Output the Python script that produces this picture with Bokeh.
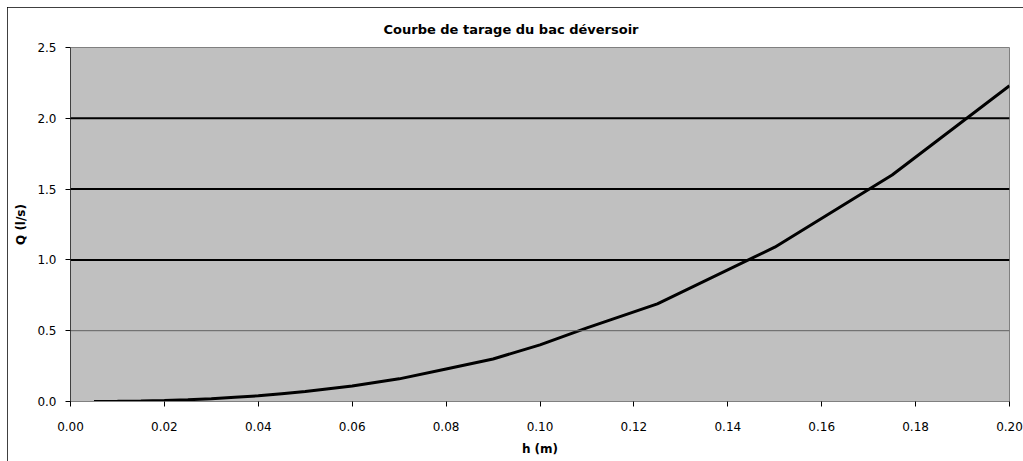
from bokeh.plotting import figure
from bokeh.models import FixedTicker, NumeralTickFormatter, Range1d, Span
from bokeh.embed import file_html
from bokeh.resources import INLINE

# Data
h_m = [0.005, 0.010, 0.015, 0.020, 0.025, 0.030, 0.035, 0.040, 0.045, 0.050,
       0.060, 0.070, 0.080, 0.090, 0.100, 0.110, 0.125, 0.150, 0.175, 0.200]
q_ls = [0.000, 0.001, 0.003, 0.007, 0.012, 0.020, 0.030, 0.040, 0.055, 0.070,
        0.110, 0.160, 0.230, 0.300, 0.400, 0.520, 0.690, 1.090, 1.600, 2.230]
x_ticks = [0.00, 0.02, 0.04, 0.06, 0.08, 0.10, 0.12, 0.14, 0.16, 0.18, 0.20]
y_ticks = [0.0, 0.5, 1.0, 1.5, 2.0, 2.5]
title_text = "Courbe de tarage du bac déversoir"

FONT = "DejaVu Sans"

p = figure(width=1016, height=454, output_backend="svg", toolbar_location=None,
           x_range=Range1d(x_ticks[0], x_ticks[-1]), y_range=Range1d(y_ticks[0], y_ticks[-1]),
           min_border_left=63, min_border_right=14, min_border_top=40, min_border_bottom=60,
           title=title_text)

p.styles = {"outline": "1px solid black", "outline-offset": "-1px",
            "margin-left": "7px", "margin-top": "7px"}

p.background_fill_color = "#C0C0C0"
p.border_fill_color = "white"
p.outline_line_color = "#808080"
p.outline_line_width = 1

p.title.text_font = FONT
p.title.text_font_size = "13px"
p.title.text_font_style = "bold"
p.title.text_color = "black"
p.title.align = "left"
p.title.offset = 313
p.title.standoff = 22

p.xgrid.visible = False
p.ygrid.visible = False

for t in y_ticks[1:-1]:
    if t == y_ticks[1]:
        p.add_layout(Span(location=t, dimension="width", line_color="#606060", line_width=1))
    else:
        p.add_layout(Span(location=t, dimension="width", line_color="black", line_width=2))

p.line(h_m, q_ls, line_color="black", line_width=3)

xa = p.xaxis[0]
xa.ticker = FixedTicker(ticks=x_ticks)
xa.formatter = NumeralTickFormatter(format="0.00")
xa.axis_label = "h (m)"
xa.axis_line_color = "#808080"
xa.major_tick_line_color = "black"
xa.major_tick_out = 5
xa.major_tick_in = 0
xa.minor_tick_line_color = None
xa.major_label_standoff = 15
xa.axis_label_standoff = 8

ya = p.yaxis[0]
ya.ticker = FixedTicker(ticks=y_ticks)
ya.formatter = NumeralTickFormatter(format="0.0")
ya.axis_label = "Q (l/s)"
ya.axis_line_color = "black"
ya.axis_line_dash = "1 1"
ya.major_tick_line_color = "black"
ya.major_tick_out = 5
ya.major_tick_in = 0
ya.minor_tick_line_color = None
ya.major_label_standoff = 9
ya.axis_label_standoff = 6

for ax in (xa, ya):
    ax.major_label_text_font = FONT
    ax.major_label_text_font_size = "12px"
    ax.major_label_text_font_style = "normal"
    ax.major_label_text_color = "black"
    ax.axis_label_text_font = FONT
    ax.axis_label_text_font_size = "12px"
    ax.axis_label_text_font_style = "bold"
    ax.axis_label_text_color = "black"

open("out.html", "w").write(file_html(p, INLINE))
